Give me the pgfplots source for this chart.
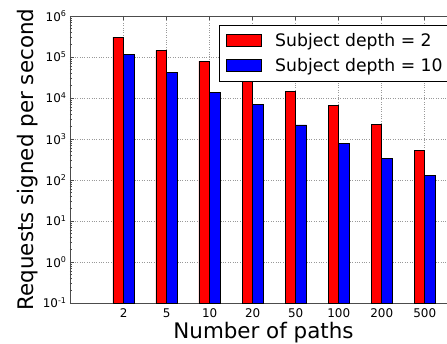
\documentclass[border=0pt]{standalone}
\usepackage{fontspec}
\setmainfont{DejaVu Sans}
\usepackage{pgfplots}
\pgfplotsset{compat=1.18}
\pgfplotsset{mybar legend/.style={legend image code/.code={\path (0bp,0bp); \draw[##1,draw=black,line width=0.8bp] (7bp,-6bp) rectangle (42bp,6bp); \path (48bp,0bp);}}}
\begin{document}
\begin{tikzpicture}
\begin{axis}[
  name=ax,
  scale only axis,
  width=387bp, height=287bp,
  ymode=log, log origin=infty,
  ymin=0.1, ymax=1e6,
  xmin=-1.25, xmax=7.75,
  xtick={0,1,2,3,4,5,6,7},
  xticklabels={2,5,10,20,50,100,200,500},
  ytick={1e-1,1,1e1,1e2,1e3,1e4,1e5,1e6},
  yticklabels={10\textsuperscript{-1},10\textsuperscript{0},10\textsuperscript{1},10\textsuperscript{2},10\textsuperscript{3},10\textsuperscript{4},10\textsuperscript{5},10\textsuperscript{6}},
  minor ytick={2e-1,3e-1,4e-1,5e-1,6e-1,7e-1,8e-1,9e-1,
    2,3,4,5,6,7,8,9,
    2e1,3e1,4e1,5e1,6e1,7e1,8e1,9e1,
    2e2,3e2,4e2,5e2,6e2,7e2,8e2,9e2,
    2e3,3e3,4e3,5e3,6e3,7e3,8e3,9e3,
    2e4,3e4,4e4,5e4,6e4,7e4,8e4,9e4,
    2e5,3e5,4e5,5e5,6e5,7e5,8e5,9e5},
  xmajorgrids, ymajorgrids,
  major grid style={black!40, dotted, line width=0.6bp},
  axis line style={black!70, line width=0.8bp},
  major tick style={black!70, line width=0.6bp},
  minor tick style={black!70, line width=0.5bp},
  major tick length=4bp, minor tick length=2bp,
  tick align=inside,
  ticklabel style={font=\fontsize{12}{14}\selectfont},
  /pgf/number format/assume math mode=true,
  xticklabel style={anchor=base, yshift=-14bp},
  xlabel={Number of paths},
  ylabel={Requests signed per second},
  label style={font=\fontsize{21.5}{25}\selectfont},
  xlabel style={at={(axis description cs:0.5,-0.122)}, anchor=base},
  ylabel style={at={(axis description cs:-0.0956,0.5)}, anchor=base, rotate=0},
  legend style={at={(rel axis cs:1,1)}, anchor=north east, xshift=-7bp, yshift=-9bp,
    draw=black, line width=0.8bp, font=\fontsize{17.3}{20.8}\selectfont,
    inner xsep=0bp, inner ysep=5bp,
    nodes={inner xsep=7bp, inner ysep=3bp},
    cells={anchor=west}, row sep=4.5bp},
]
\addplot[ybar, bar width=0.25, bar shift=-0.125, fill=red, draw=black, line width=0.8bp, forget plot]
  coordinates {(0,3.05e5) (1,1.45e5) (2,7.9e4) (3,3.6e4) (4,1.46e4) (5,6.6e3) (6,2.3e3) (7,5.2e2)};
\addplot[ybar, bar width=0.25, bar shift=0.125, fill=blue, draw=black, line width=0.8bp, forget plot]
  coordinates {(0,1.15e5) (1,4.2e4) (2,1.4e4) (3,6.9e3) (4,2.2e3) (5,7.6e2) (6,3.4e2) (7,1.26e2)};
\addlegendimage{fill=red, mybar legend}
\addlegendentry{Subject depth = 2}
\addlegendimage{fill=blue, mybar legend}
\addlegendentry{Subject depth = 10}
\end{axis}
\pgfresetboundingbox
\path[use as bounding box] ([shift={(-70bp,-41bp)}]ax.south west) rectangle ([shift={(377bp,16bp)}]ax.north west);
\end{tikzpicture}
\end{document}
